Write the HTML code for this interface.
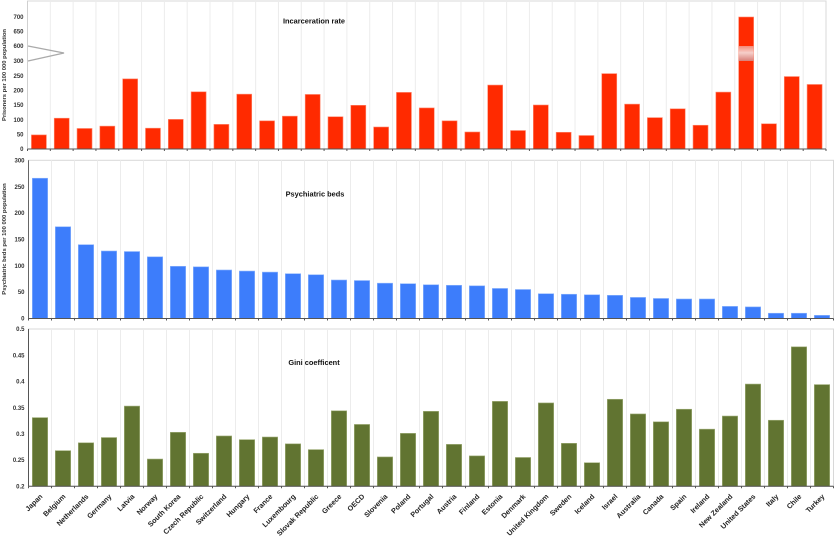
<!DOCTYPE html>
<html>
<head>
<meta charset="utf-8">
<title>Incarceration, psychiatric beds and Gini coefficient</title>
<style>
html,body{margin:0;padding:0;background:#fff;width:835px;height:540px;overflow:hidden}
svg{display:block;font-family:"Liberation Sans",sans-serif;filter:blur(.35px)}
</style>
</head>
<body>
<svg id="chart" width="835" height="540" viewBox="0 0 835 540" xmlns="http://www.w3.org/2000/svg">
<defs>
<linearGradient id="breakFade" x1="0" y1="0" x2="0" y2="1">
<stop offset="0" stop-color="#f58a78"/>
<stop offset=".45" stop-color="#f6cfca"/>
<stop offset="1" stop-color="#d87f78"/>
</linearGradient>
</defs>
</svg>
<script>
const categories = ["Japan","Belgium","Netherlands","Germany","Latvia","Norway","South Korea","Czech Republic","Switzerland","Hungary","France","Luxembourg","Slovak Republic","Greece","OECD","Slovenia","Poland","Portugal","Austria","Finland","Estonia","Denmark","United Kingdom","Sweden","Iceland","Israel","Australia","Canada","Spain","Ireland","New Zealand","United States","Italy","Chile","Turkey"];
const prisonValues = [48,105,70,78,239,71,101,195,84,187,96,112,186,110,149,75,193,140,96,58,218,63,150,57,46,257,153,107,137,81,194,700,86,247,220];
const bedValues = [266,174,140,128,127,117,99,98,92,90,88,85,83,73,72,67,66,64,63,62,57,55,47,46,45,44,40,38,37,37,23,22,10,10,6];
const giniValues = [0.331,0.268,0.283,0.293,0.353,0.252,0.303,0.263,0.296,0.289,0.294,0.281,0.27,0.344,0.318,0.256,0.301,0.343,0.28,0.258,0.362,0.255,0.359,0.282,0.245,0.366,0.338,0.323,0.347,0.309,0.334,0.395,0.326,0.466,0.394];
const prisonTicks = [0,50,100,150,200,250,300,600,650,700];
const bedTicks = [0,50,100,150,200,250,300];
const giniTicks = [0.2,0.25,0.3,0.35,0.4,0.45,0.5];

const NS = "http://www.w3.org/2000/svg";
const svg = document.getElementById("chart");

function make(tag, attrs, text) {
  const el = document.createElementNS(NS, tag);
  for (const k in attrs) el.setAttribute(k, attrs[k]);
  if (text !== undefined) el.textContent = text;
  svg.appendChild(el);
  return el;
}

/* Axis functions */
function yPrison(v) {
  if (v <= 300) return 149 - v * (88 / 300);
  if (v <= 600) return 61 - (v - 300) * (15 / 300);
  return 46 - (v - 600) * (29 / 100);
}
function yBeds(v) { return 318.5 - v * (158.2 / 300); }
function yGini(v) { return 486.3 - (v - 0.2) * (157.3 / 0.3); }

function drawPanel(p) {
  const n = categories.length;
  const step = (p.right - p.left) / n;
  const bottom = p.y(p.ticks[0]);

  const frame = make("rect", {x: p.left, y: p.top, width: p.right - p.left, height: bottom - p.top, fill: "#fff", stroke: "#d8d8d8", "stroke-width": 1});
  
  

  for (let i = 1; i < n; i++) {
    const gx = p.left + i * step;
    const grid = make("line", {x1: gx, x2: gx, y1: p.top, y2: bottom, stroke: "#ececec", "stroke-width": 1});
    
    
  }

  p.values.forEach(function (v, i) {
    const bx = p.left + step * i + (step - p.barWidth) / 2;
    const by = p.y(v);
    const bar = make("rect", {x: bx, y: by, width: p.barWidth, height: bottom - by, fill: p.color, stroke: p.edge, "stroke-width": 0.6});
    
    
    if (p.breakRange && v > p.breakRange[1]) {
      const fy = p.y(p.breakRange[1]);
      const fh = p.y(p.breakRange[0]) - fy;
      const fade = make("rect", {x: bx, y: fy, width: p.barWidth, height: fh, fill: "url(#breakFade)"});
      
      
    }
  });

  const yAxis = make("line", {x1: p.left, x2: p.left, y1: p.top, y2: bottom, stroke: p.axisColor, "stroke-width": 1});
  
  

  const xAxis = make("line", {x1: p.left, x2: p.right, y1: bottom, y2: bottom, stroke: "#555", "stroke-width": 1});
  
  

  for (let i = 0; i <= n; i++) {
    const tx = p.left + i * step;
    const tick = make("line", {x1: tx, x2: tx, y1: bottom, y2: bottom + 2, stroke: "#555", "stroke-width": 1});
    
    
  }

  p.ticks.forEach(function (t) {
    const label = make("text", {x: p.left - 4, y: p.y(t) + 2.1, "text-anchor": "end", "font-size": 6, "font-weight": "bold", fill: "#333"}, String(t));
    
    
  });

  const title = make("text", {x: p.titleX, y: p.titleY, "text-anchor": "middle", "font-size": 7.4, "font-weight": "bold", fill: "#111"}, p.title);
  
  

  if (p.yTitle) {
    const yTitle = make("text", {x: 0, y: 0, "text-anchor": "middle", "font-size": 5.85, "font-weight": "bold", fill: "#333", transform: "translate(6 " + p.yTitleY + ") rotate(-90)"}, p.yTitle);
    
    
  }
}

drawPanel({key: "incarceration", title: "Incarceration rate", titleX: 314, titleY: 23.5, yTitle: "Prisoners per 100 000 population", yTitleY: 75,
  values: prisonValues, ticks: prisonTicks, y: yPrison, left: 27.5, right: 826, top: 1, barWidth: 15,
  color: "#ff2a00", edge: "#ff8a70", axisColor: "#d0d0d0", breakRange: [300, 600]});

drawPanel({key: "psychiatric", title: "Psychiatric beds", titleX: 315, titleY: 196.5, yTitle: "Psychiatric beds per 100 000 population", yTitleY: 239,
  values: bedValues, ticks: bedTicks, y: yBeds, left: 28.5, right: 833.5, top: 160.3, barWidth: 15.4,
  color: "#3d7dfb", edge: "#8fb6fd", axisColor: "#666"});

drawPanel({key: "gini", title: "Gini coefficent", titleX: 314, titleY: 365, yTitle: "",
  values: giniValues, ticks: giniTicks, y: yGini, left: 28.5, right: 833.5, top: 329, barWidth: 15.4,
  color: "#617431", edge: "#a3b07d", axisColor: "#555"});

/* Axis-break marker on the incarceration panel */
const breakMark = make("polyline", {points: "28," + yPrison(600) + " 64,53 28," + yPrison(300), fill: "none", stroke: "#aaa", "stroke-width": 1.4});



/* Country labels under the bottom panel */
categories.forEach(function (c, i) {
  const lx = 28.5 + 23 * i + 14.5;
  const label = make("text", {x: 0, y: 0, "text-anchor": "end", "font-size": 7.2, "font-weight": "bold", fill: "#222", transform: "translate(" + lx + " 497) rotate(-45)"}, c);
  
  
});
</script>
</body>
</html>
